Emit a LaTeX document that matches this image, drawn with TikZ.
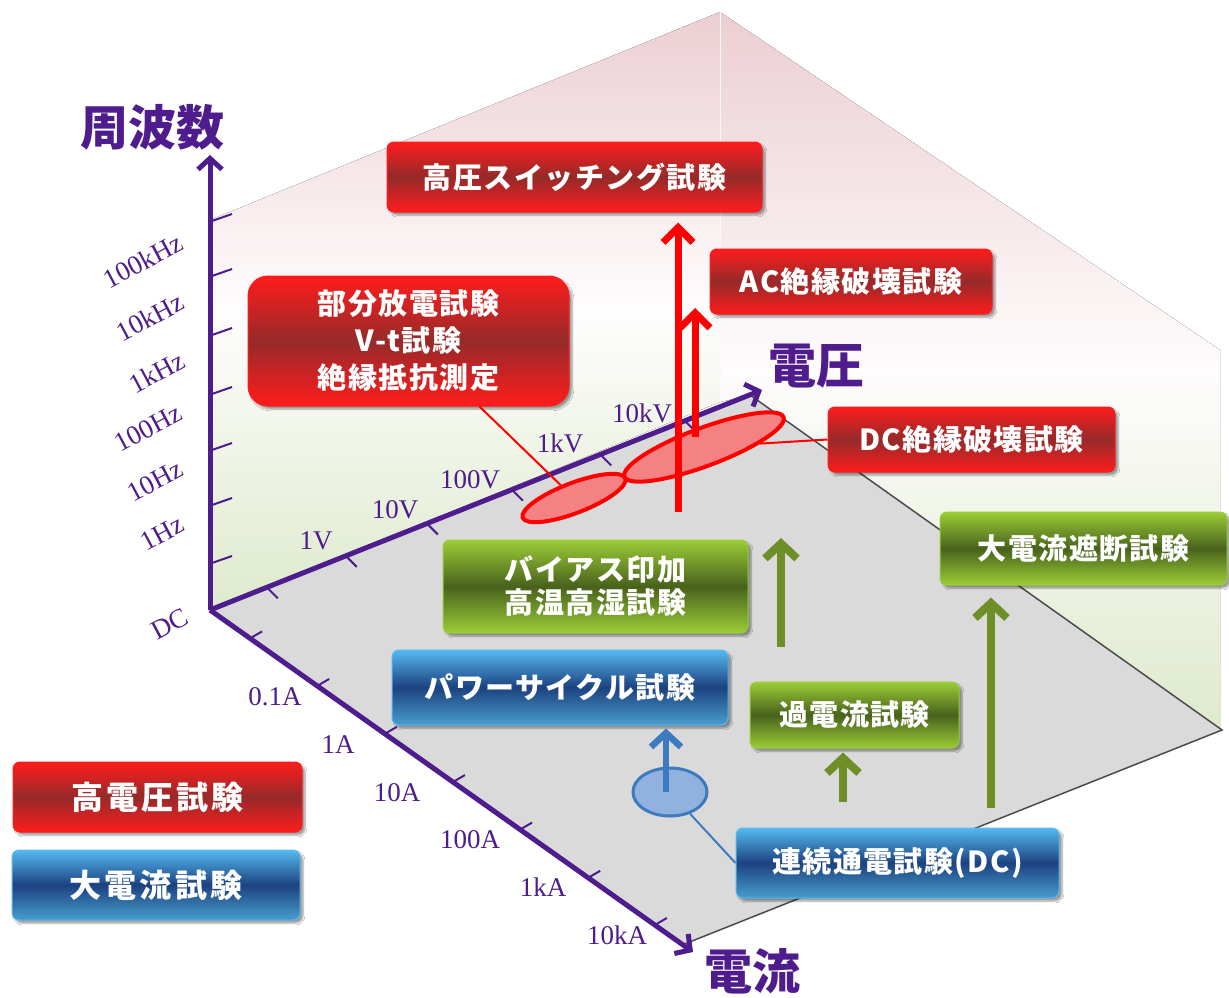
\documentclass[tikz,border=0pt]{standalone}
\usepackage{fontspec}
\setmainfont{Liberation Serif}
\newfontfamily\jp{Noto Sans CJK JP}
\newfontfamily\jpb{Noto Sans CJK JP}[LetterSpace=5]
\newfontfamily\jpl{Noto Sans CJK JP}[LetterSpace=10]
\usetikzlibrary{arrows.meta,shapes.geometric,shadows.blur,calc}

\definecolor{axp}{RGB}{78,28,140}
\definecolor{redA}{RGB}{255,28,28}
\definecolor{redD}{RGB}{150,42,42}
\definecolor{bluA}{RGB}{85,185,240}
\definecolor{bluD}{RGB}{28,66,128}
\definecolor{grnA}{RGB}{155,205,55}
\definecolor{grnD}{RGB}{72,98,28}
\definecolor{floorc}{RGB}{218,218,218}
\definecolor{wallpink}{RGB}{236,206,210}
\definecolor{wallgreen}{RGB}{222,234,204}
\definecolor{arrred}{RGB}{255,0,0}
\definecolor{arrgrn}{RGB}{110,142,40}
\definecolor{arrblu}{RGB}{62,122,192}
\definecolor{ellred}{RGB}{245,130,130}
\definecolor{ellblu}{RGB}{145,178,222}

\begin{document}
\begin{tikzpicture}[x=1pt,y=-1pt,
  box/.style={rounded corners=7pt, text=white, inner sep=0pt, align=center,
    font=\jpb\bfseries\fontsize{29}{34}\selectfont,
    blur shadow={shadow xshift=3pt, shadow yshift=-3pt, shadow opacity=40, shadow blur steps=5}},
  redbox/.style={box, top color=redA, bottom color=redA, middle color=redD, draw=redA, line width=1pt},
  blubox/.style={box, top color=bluA, bottom color=bluA!85!black, middle color=bluD, draw=bluA, line width=1pt},
  grnbox/.style={box, top color=grnA, bottom color=grnA, middle color=grnD, draw=grnA, line width=1pt},
  axisline/.style={draw=axp, line width=5pt, -{Straight Barb[length=11pt,width=24pt]}},
  tickline/.style={draw=axp, line width=2pt},
  scalelbl/.style={text=axp, font=\fontsize{27}{30}\selectfont, inner sep=0pt},
  axislbl/.style={text=axp, font=\jp\bfseries\fontsize{48}{52}\selectfont, inner sep=0pt},
  redarrow/.style={draw=arrred, line width=7pt, -{Straight Barb[length=15pt,width=30pt]}},
  grnarrow/.style={draw=arrgrn, line width=8pt, -{Straight Barb[length=15pt,width=32pt]}},
  bluarrow/.style={draw=arrblu, line width=6.5pt, -{Straight Barb[length=14pt,width=30pt]}},
  redell/.style={ellipse, draw=arrred, line width=4pt, fill=ellred, inner sep=0pt},
  bluell/.style={ellipse, draw=arrblu, line width=3pt, fill=ellblu, inner sep=0pt},
  redlink/.style={draw=arrred, line width=2pt},
  blulink/.style={draw=arrblu, line width=2pt},
  flooredge/.style={draw=black!70, line width=1.5pt}
]
\useasboundingbox (0,0) rectangle (1229,998);
\fill[white] (0,0) rectangle (1229,998);

% walls
\fill[top color=wallpink, bottom color=wallgreen, middle color=white!96!wallpink]
  (210,610) -- (210,220) -- (720,12) -- (720,402) -- cycle;
\fill[top color=wallpink, bottom color=wallgreen, middle color=white!94!wallpink]
  (720,12) -- (1220,350) -- (1220,730) -- (750,395) -- (720,402) -- cycle;
\draw[white!85!wallpink, line width=1pt] (720,12) -- (720,402);

% floor
\coordinate (O) at (210,610);
\coordinate (FB) at (750,395);
\coordinate (FR) at (1222,730);
\coordinate (FF) at (682,945);
\fill[floorc] (O) -- (FB) -- (FR) -- (FF) -- cycle;
\draw[flooredge] (FB) -- (FR) -- (FF);

% axes
\coordinate (Ftop) at (210,155);
\coordinate (Vend) at (762,390);
\coordinate (Iend) at (693,952);
\draw[axisline] (O) -- (Ftop);
\draw[axisline] (O) -- (Vend);
\draw[axisline] (O) -- (Iend);

\foreach \yy in {221,276,335,394,450,505,563}
  \draw[tickline] (212,\yy) -- ++(20,-7);
\foreach \t in {0.103,0.246,0.393,0.547,0.707,0.86}
  \draw[tickline] ($(O)!\t!(Vend)$) -- ++(11,11);
\foreach \t in {0.083,0.222,0.362,0.503,0.642,0.783,0.921}
  \draw[tickline] ($(O)!\t!(Iend)$) -- ++(12,-7);

% axis labels
\node[axislbl] (lf) at (152,127) {周波数};
\node[axislbl] (lv) at (816,366) {電圧};
\node[axislbl] (li) at (752,971) {電流};

% frequency scale
\node[scalelbl, rotate=28] (f1) at (143,261) {100kHz};
\node[scalelbl, rotate=28] (f2) at (150,317) {10kHz};
\node[scalelbl, rotate=28] (f3) at (157,372) {1kHz};
\node[scalelbl, rotate=28] (f4) at (148,428) {100Hz};
\node[scalelbl, rotate=28] (f5) at (155,481) {10Hz};
\node[scalelbl, rotate=28] (f6) at (162,533) {1Hz};
\node[scalelbl, rotate=28] (f0) at (170,624) {DC};

% voltage scale
\node[scalelbl] (v1) at (316,541) {1V};
\node[scalelbl] (v2) at (395,510) {10V};
\node[scalelbl] (v3) at (470,480) {100V};
\node[scalelbl] (v4) at (560,443) {1kV};
\node[scalelbl] (v5) at (642,413) {10kV};

% current scale
\node[scalelbl] (c1) at (275,697) {0.1A};
\node[scalelbl] (c2) at (338,745) {1A};
\node[scalelbl] (c3) at (397,793) {10A};
\node[scalelbl] (c4) at (470,840) {100A};
\node[scalelbl] (c5) at (543,887) {1kA};
\node[scalelbl] (c6) at (617,935) {10kA};

% boxes
\node[redbox, minimum width=375pt, minimum height=70pt] (hs) at (574.5,177) {高圧スイッチング試験};
\node[redbox, minimum width=282pt, minimum height=65pt] (ac) at (851,281.5) {AC絶縁破壊試験};
\node[redbox, rounded corners=20pt, minimum width=321pt, minimum height=130pt,
      font=\jpb\bfseries\fontsize{29}{37}\selectfont] (pd) at (408.5,341) {部分放電試験\\V-t試験\\絶縁抵抗測定};
\node[redbox, minimum width=287pt, minimum height=65pt] (dcb) at (971.5,439.5) {DC絶縁破壊試験};
\node[grnbox, minimum width=287pt, minimum height=73pt] (brk) at (1083.5,548.5) {大電流遮断試験};
\node[grnbox, minimum width=305pt, minimum height=93pt,
      font=\jpb\bfseries\fontsize{29}{33}\selectfont] (bias) at (595.5,586.5) {バイアス印加\\高温高湿試験};
\node[blubox, minimum width=336pt, minimum height=75pt] (pc) at (560,687.5) {パワーサイクル試験};
\node[grnbox, minimum width=209pt, minimum height=66pt] (oc) at (854.5,715) {過電流試験};
\node[blubox, minimum width=323pt, minimum height=70pt] (cb) at (897.5,863) {連続通電試験(DC)};
\node[redbox, minimum width=289pt, minimum height=70pt, font=\jpl\bfseries\fontsize{32}{36}\selectfont] (lg1) at (157.5,797) {高電圧試験};
\node[blubox, minimum width=288pt, minimum height=70pt, font=\jpl\bfseries\fontsize{32}{36}\selectfont] (lg2) at (156,885) {大電流試験};

% ellipses and links
\node[redell, minimum width=110pt, minimum height=30pt, rotate=21] (e1) at (574,498) {};
\node[redell, minimum width=170pt, minimum height=38pt, rotate=20.5] (e2) at (704,447) {};
\draw[redlink] ([xshift=71pt]pd.south) -- (e1);
\draw[redlink] (dcb.west) -- (e2);

\node[bluell, minimum width=74pt, minimum height=48pt] (be) at (670,792) {};
\draw[blulink] (be) -- (cb.west);

% arrows
\coordinate (r1s) at (678,512);
\coordinate (r2s) at (695,437);
\coordinate (r2e) at (695,308);
\draw[redarrow, shorten >=10pt] (r1s) -- (r1s |- hs.south);
\draw[redarrow] (r2s) -- (r2e);

\coordinate (gAs) at (781,647);
\coordinate (gAe) at (781,538);
\coordinate (gBs) at (843,802);
\coordinate (gCs) at (991,808);
\draw[grnarrow] (gAs) -- (gAe);
\draw[grnarrow, shorten >=4pt] (gBs) -- (gBs |- oc.south);
\draw[grnarrow, shorten >=12pt] (gCs) -- (gCs |- brk.south);

\draw[bluarrow, shorten >=3pt] ([xshift=-4pt]be.center) -- ([xshift=-4pt]be.center |- pc.south);
\end{tikzpicture}
\end{document}
